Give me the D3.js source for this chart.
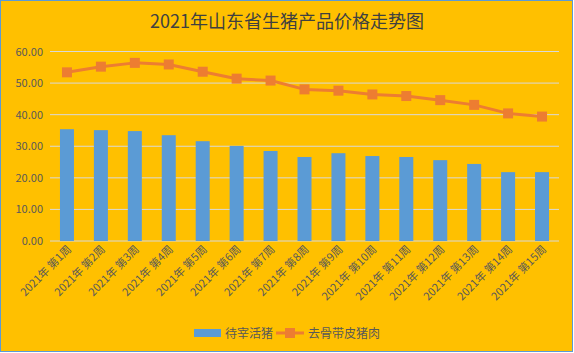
<!DOCTYPE html>
<html lang="zh">
<head>
<meta charset="UTF-8">
<title>2021年山东省生猪产品价格走势图</title>
<style>
  body { margin: 0; background: #fff; }
  svg text { font-family: "Noto Sans CJK SC", "DejaVu Sans", sans-serif; }
</style>
</head>
<body>
<svg width="574" height="353"></svg>
<script src="https://d3js.org/d3.v7.min.js"></script>
<script>
const weeks = ["2021年 第1周", "2021年 第2周", "2021年 第3周", "2021年 第4周", "2021年 第5周",
  "2021年 第6周", "2021年 第7周", "2021年 第8周", "2021年 第9周", "2021年 第10周",
  "2021年 第11周", "2021年 第12周", "2021年 第13周", "2021年 第14周", "2021年 第15周"];
const livePig = [35.4, 35.1, 34.8, 33.5, 31.6, 30.1, 28.5, 26.6, 27.8, 26.9, 26.6, 25.6, 24.4, 21.8, 21.8];
const porkSkinOn = [53.4, 55.2, 56.4, 55.9, 53.6, 51.4, 50.8, 48.0, 47.6, 46.4, 45.9, 44.6, 43.1, 40.4, 39.4];
const yTicks = [0, 10, 20, 30, 40, 50, 60];
const seriesNames = ["待宰活猪", "去骨带皮猪肉"];

const width = 574, height = 353;
const margin = { top: 51.5, right: 15, bottom: 112, left: 50 };
const svg = d3.select("svg");

// background + frame
svg.append("rect")
  .attr("x", 0.5).attr("y", 0.5)
  .attr("width", 572).attr("height", 351)
  .attr("fill", "#FFC000")
  .attr("stroke", "#5B9BD5");

svg.append("text")
  .attr("x", 287).attr("y", 28)
  .attr("text-anchor", "middle")
  .style("font-size", "18px")
  .attr("fill", "#404040")
  .text("2021年山东省生猪产品价格走势图");

const x = d3.scaleBand()
  .domain(weeks)
  .range([margin.left, 559]);

const y = d3.scaleLinear()
  .domain([0, 60])
  .range([241, margin.top]);

// gridlines
svg.append("g")
  .selectAll("line")
  .data(yTicks)
  .join("line")
  .attr("x1", margin.left).attr("x2", 559)
  .attr("y1", d => y(d)).attr("y2", d => y(d))
  .attr("stroke", "#D9D9D9")
  .attr("stroke-width", 1);

// y labels
svg.append("g")
  .selectAll("text")
  .data(yTicks)
  .join("text")
  .attr("x", 43)
  .attr("y", d => y(d) + 4)
  .attr("text-anchor", "end")
  .style("font-size", "11px")
  .attr("fill", "#595959")
  .text(d => d3.format(".2f")(d));

// bars
const barW = 14;
svg.append("g")
  .selectAll("rect")
  .data(livePig)
  .join("rect")
  .attr("x", (d, i) => x(weeks[i]) + x.bandwidth() / 2 - barW / 2)
  .attr("y", d => y(d))
  .attr("width", barW)
  .attr("height", d => y(0) - y(d))
  .attr("fill", "#5B9BD5");

// x labels
svg.append("g")
  .selectAll("text")
  .data(weeks)
  .join("text")
  .attr("transform", d => "translate(" + (x(d) + x.bandwidth() / 2 + 5) + "," + 250 + ") rotate(-45)")
  .attr("text-anchor", "end")
  .style("font-size", "11px")
  .attr("fill", "#595959")
  .text(d => d);

// line
const line = d3.line()
  .x((d, i) => x(weeks[i]) + x.bandwidth() / 2)
  .y(d => y(d));

svg.append("path")
  .datum(porkSkinOn)
  .attr("d", line)
  .attr("fill", "none")
  .attr("stroke", "#ED7D31")
  .attr("stroke-width", 3)
  .attr("stroke-linejoin", "round");

svg.append("g")
  .selectAll("rect")
  .data(porkSkinOn)
  .join("rect")
  .attr("x", (d, i) => x(weeks[i]) + x.bandwidth() / 2 - 5)
  .attr("y", d => y(d) - 5)
  .attr("width", 10).attr("height", 10)
  .attr("fill", "#ED7D31");

// legend
const lg = svg.append("g");
lg.append("rect")
  .attr("x", 194).attr("y", 329)
  .attr("width", 27).attr("height", 8)
  .attr("fill", "#5B9BD5");
lg.append("text")
  .attr("x", 225).attr("y", 337.5)
  .style("font-size", "12px")
  .attr("fill", "#595959")
  .text(seriesNames[0]);
lg.append("line")
  .attr("x1", 276).attr("x2", 304)
  .attr("y1", 333).attr("y2", 333)
  .attr("stroke", "#ED7D31").attr("stroke-width", 3);
lg.append("rect")
  .attr("x", 285).attr("y", 328)
  .attr("width", 10).attr("height", 10)
  .attr("fill", "#ED7D31");
lg.append("text")
  .attr("x", 308).attr("y", 337.5)
  .style("font-size", "12px")
  .attr("fill", "#595959")
  .text(seriesNames[1]);
</script>
</body>
</html>
